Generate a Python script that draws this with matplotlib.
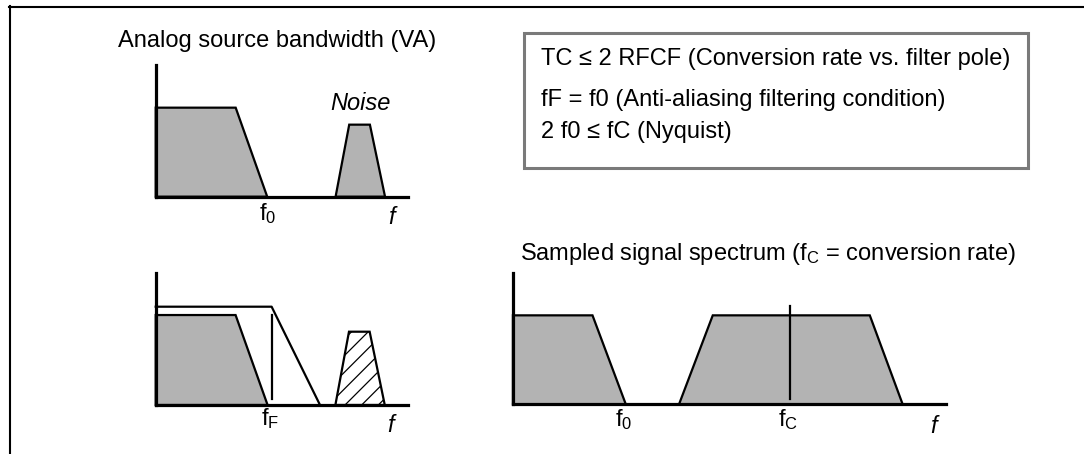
import matplotlib
matplotlib.use("Agg")
import matplotlib.pyplot as plt
from matplotlib.patches import Rectangle
from matplotlib.lines import Line2D

plt.rcParams['font.family'] = ['Liberation Sans', 'DejaVu Sans']
plt.rcParams['mathtext.fontset'] = 'custom'
plt.rcParams['mathtext.rm'] = 'Liberation Sans'
plt.rcParams['mathtext.it'] = 'Liberation Sans:italic'
plt.rcParams['hatch.linewidth'] = 0.9
plt.rcParams['hatch.color'] = '#444444'

# ---- data (panel-normalised frequency / amplitude) ----
# Panel 1: analog source bandwidth
p1_signal_x = [0.0, 0.0, 0.317, 0.442]
p1_signal_y = [0.0, 0.676, 0.676, 0.0]
p1_noise_x = [0.713, 0.767, 0.849, 0.909]
p1_noise_y = [0.0, 0.547, 0.547, 0.0]

# Panel 2: with anti-aliasing filter
p2_filter_x = [0.0, 0.460, 0.652]
p2_filter_y = [0.743, 0.743, 0.0]
p2_signal_x = [0.0, 0.0, 0.317, 0.444]
p2_signal_y = [0.0, 0.680, 0.680, 0.0]
p2_cut_x = [0.460, 0.460]
p2_cut_y = [0.043, 0.680]
p2_noise_x = [0.713, 0.767, 0.849, 0.909]
p2_noise_y = [0.0, 0.554, 0.554, 0.0]

# Panel 3: sampled signal spectrum
p3_base_x = [0.0, 0.0, 0.184, 0.261]
p3_base_y = [0.0, 0.679, 0.679, 0.0]
p3_image_x = [0.384, 0.462, 0.825, 0.901]
p3_image_y = [0.0, 0.679, 0.679, 0.0]
p3_fc_x = [0.641, 0.641]
p3_fc_y = [0.038, 0.750]

box_lines = ["TC \u2264 2 RFCF (Conversion rate vs. filter pole)",
             "fF = f0 (Anti-aliasing filtering condition)",
             "2 f0 \u2264 fC (Nyquist)"]

GRAY = '#b3b3b3'
FS = 17

fig = plt.figure(figsize=(10.84, 4.54), dpi=100)
W, H = 1084, 454


def fx(px):
    return px / W


def fy(py):
    return 1 - py / H


def panel(left, top, right, bottom):
    ax = fig.add_axes([fx(left), fy(bottom), fx(right) - fx(left), fy(top) - fy(bottom)])
    ax.set_xlim(0, 1)
    ax.set_ylim(0, 1)
    ax.set_xticks([])
    ax.set_yticks([])
    ax.patch.set_alpha(0)
    for s in ['top', 'right']:
        ax.spines[s].set_visible(False)
    for s in ['left', 'bottom']:
        ax.spines[s].set_linewidth(2.3)
    return ax


# frame
fig.add_artist(Line2D([fx(9.3), 1.0], [fy(7), fy(7)], color='black', lw=1.5, transform=fig.transFigure))
fig.add_artist(Line2D([fx(10.3), fx(10.3)], [fy(6.3), 0.0], color='black', lw=1.5, transform=fig.transFigure))

# info box
fig.add_artist(Rectangle((fx(524), fy(167.7)), fx(1028.3) - fx(524), fy(32.7) - fy(167.7),
                         transform=fig.transFigure, fill=False, edgecolor='#7a7a7a', lw=2.2))
for txt, yy in zip(box_lines, [59, 100, 131.7]):
    fig.text(fx(540.7), fy(yy), txt, fontsize=FS, ha='left', va='center')

# Panel 1
ax1 = panel(155.7, 65, 408, 196.7)
ax1.fill(p1_signal_x, p1_signal_y, facecolor=GRAY, edgecolor='black', lw=1.6, clip_on=False)
ax1.fill(p1_noise_x, p1_noise_y, facecolor=GRAY, edgecolor='black', lw=1.6, clip_on=False)
ax1.text(0.444, -0.03, r'f$_{\mathrm{0}}$', fontsize=FS, ha='center', va='top', transform=ax1.transAxes)
ax1.text(0.934, -0.07, 'f', fontsize=FS, style='italic', ha='center', va='top', transform=ax1.transAxes)
fig.text(fx(360), fy(104), 'Noise', fontsize=FS, style='italic', ha='center', va='center')
fig.text(fx(118), fy(47), 'Analog source bandwidth (VA)', fontsize=FS, ha='left', va='baseline')

# Panel 2
ax2 = panel(155.7, 272.7, 407.7, 405)
ax2.fill(p2_signal_x, p2_signal_y, facecolor=GRAY, edgecolor='black', lw=1.6, clip_on=False)
ax2.plot(p2_filter_x, p2_filter_y, color='black', lw=1.6, clip_on=False)
ax2.plot(p2_cut_x, p2_cut_y, color='black', lw=1.6, clip_on=False)
ax2.fill(p2_noise_x, p2_noise_y, facecolor='white', edgecolor='black', lw=1.6, hatch='//', clip_on=False)
ax2.text(0.453, -0.005, r'f$_{\mathrm{F}}$', fontsize=FS, ha='center', va='top', transform=ax2.transAxes)
ax2.text(0.932, -0.07, 'f', fontsize=FS, style='italic', ha='center', va='top', transform=ax2.transAxes)

# Panel 3
ax3 = panel(512.9, 273.3, 945.5, 404.3)
ax3.fill(p3_base_x, p3_base_y, facecolor=GRAY, edgecolor='black', lw=1.6, clip_on=False)
ax3.fill(p3_image_x, p3_image_y, facecolor=GRAY, edgecolor='black', lw=1.6, clip_on=False)
ax3.plot(p3_fc_x, p3_fc_y, color='black', lw=1.6, clip_on=False)
ax3.text(0.257, -0.02, r'f$_{\mathrm{0}}$', fontsize=FS, ha='center', va='top', transform=ax3.transAxes)
ax3.text(0.637, -0.02, r'f$_{\mathrm{C}}$', fontsize=FS, ha='center', va='top', transform=ax3.transAxes)
ax3.text(0.972, -0.08, 'f', fontsize=FS, style='italic', ha='center', va='top', transform=ax3.transAxes)
fig.text(fx(520.5), fy(260), r'Sampled signal spectrum (f$_{\mathrm{C}}$ = conversion rate)',
         fontsize=FS, ha='left', va='baseline')

fig.savefig('out.png', dpi=100)
